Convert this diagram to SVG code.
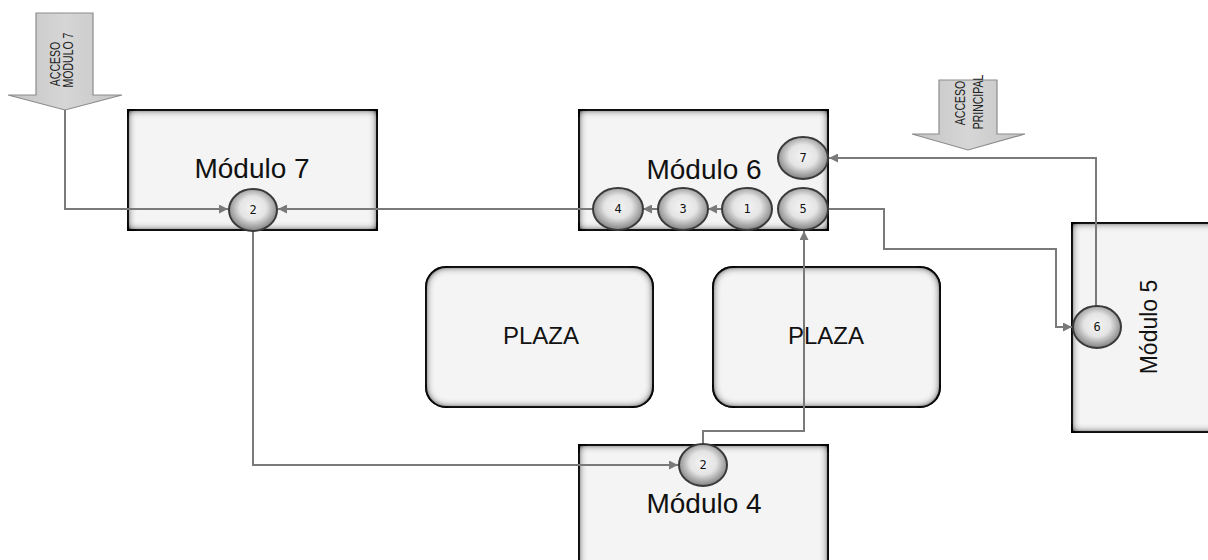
<svg xmlns="http://www.w3.org/2000/svg" width="1208" height="560" viewBox="0 0 1208 560">
<defs>
<filter id="inner" x="-10%" y="-10%" width="120%" height="120%">
<feFlood flood-color="#000" flood-opacity="1" result="f"/>
<feComposite in="f" in2="SourceAlpha" operator="out" result="o"/>
<feGaussianBlur in="o" stdDeviation="4.5" result="b"/>
<feComponentTransfer in="b" result="b2"><feFuncA type="linear" slope="1.8"/></feComponentTransfer>
<feComposite in="b2" in2="SourceAlpha" operator="in" result="s"/>
<feMerge><feMergeNode in="SourceGraphic"/><feMergeNode in="s"/></feMerge>
</filter>
<radialGradient id="cg" cx="50%" cy="45%" r="55%">
<stop offset="0" stop-color="#f4f4f4"/>
<stop offset="0.5" stop-color="#e4e4e4"/>
<stop offset="1" stop-color="#808080"/>
</radialGradient>
<linearGradient id="ag" x1="0" y1="0" x2="1" y2="0">
<stop offset="0" stop-color="#c4c4c4"/>
<stop offset="0.5" stop-color="#d6d6d6"/>
<stop offset="1" stop-color="#c4c4c4"/>
</linearGradient>
<marker id="ah" viewBox="0 0 10 10" refX="10" refY="5" markerWidth="4.5" markerHeight="4.5" orient="auto" markerUnits="strokeWidth">
<path d="M0,0 L10,5 L0,10 z" fill="#7a7a7a"/>
</marker>
<style>
.box{fill:#f4f4f4;stroke:#2a2a2a;stroke-width:2;filter:url(#inner)}
.plaza{fill:#f4f4f4;stroke:#2a2a2a;stroke-width:2;filter:url(#inner)}
.lbl{font-family:"Liberation Sans",Arial,sans-serif;font-size:28px;fill:#111;text-anchor:middle}
.pl{font-family:"Liberation Sans",Arial,sans-serif;font-size:24px;fill:#111;text-anchor:middle}
.c{fill:url(#cg);stroke:#3a3a3a;stroke-width:2}
.n{font-family:"DejaVu Sans Mono",monospace;font-size:12px;fill:#111;text-anchor:middle}
.acc{fill:url(#ag);stroke:#8c8c8c;stroke-width:1.2}
.at{font-family:"Liberation Sans",Arial,sans-serif;font-size:14px;fill:#222;text-anchor:middle}
.con{fill:none;stroke:#7a7a7a;stroke-width:2}
</style>
</defs>
<rect width="1208" height="560" fill="#fff"/>

<g id="acceso-modulo7">
<polygon class="acc" points="36,13 93,13 93,95 122,95 65,110 8,95 36,95"/>
<text class="at" transform="translate(60,64) rotate(-90) scale(0.75,1)">ACCESO</text>
<text class="at" transform="translate(73,60) rotate(-90) scale(0.75,1)">MÓDULO 7</text>
</g>
<g id="acceso-principal">
<polygon class="acc" points="939,80 997,80 997,134 1025,134 968,150 912,134 939,134"/>
<text class="at" transform="translate(965,103) rotate(-90) scale(0.75,1)">ACCESO</text>
<text class="at" transform="translate(983,102) rotate(-90) scale(0.75,1)">PRINCIPAL</text>
</g>

<g id="modulo7">
<rect class="box" x="128" y="110" width="249" height="120"/>
<text class="lbl" x="252" y="178">Módulo 7</text>
</g>
<g id="modulo6">
<rect class="box" x="579" y="110" width="249" height="120"/>
<text class="lbl" x="704" y="179">Módulo 6</text>
</g>
<g id="modulo4">
<rect class="box" x="579" y="445" width="249" height="130"/>
<text class="lbl" x="704" y="513">Módulo 4</text>
</g>
<g id="modulo5">
<rect class="box" x="1072" y="223" width="150" height="209"/>
<text class="lbl" style="font-size:23px" transform="translate(1157,327) rotate(-90)">Módulo 5</text>
</g>
<g id="plaza1">
<rect class="plaza" x="426" y="267" width="227" height="140" rx="20"/>
<text class="pl" x="541" y="344">PLAZA</text>
</g>
<g id="plaza2">
<rect class="plaza" x="713" y="267" width="227" height="140" rx="20"/>
<text class="pl" x="826" y="344">PLAZA</text>
</g>

<g id="connectors">
<polyline class="con" points="65,110 65,209 228,209" marker-end="url(#ah)"/>
<polyline class="con" points="593,209 278,209" marker-end="url(#ah)"/>
<polyline class="con" points="658,209 643,209" marker-end="url(#ah)"/>
<polyline class="con" points="722,209 708,209" marker-end="url(#ah)"/>
<polyline class="con" points="253,231 253,465 678,465" marker-end="url(#ah)"/>
<polyline class="con" points="703,444 703,431 804,431 804,231" marker-end="url(#ah)"/>
<polyline class="con" points="828,209 884,209 884,249 1056,249 1056,327 1072,327" marker-end="url(#ah)"/>
<polyline class="con" points="1096,306 1096,158 829,158" marker-end="url(#ah)"/>
</g>

<g id="c-m7-2"><ellipse class="c" cx="253" cy="210" rx="24" ry="21"/><text class="n" x="253" y="214">2</text></g>
<g id="c-m6-4"><ellipse class="c" cx="618" cy="209" rx="25" ry="21"/><text class="n" x="618" y="213">4</text></g>
<g id="c-m6-3"><ellipse class="c" cx="683" cy="209" rx="25" ry="21"/><text class="n" x="683" y="213">3</text></g>
<g id="c-m6-1"><ellipse class="c" cx="747" cy="209" rx="25" ry="21"/><text class="n" x="747" y="213">1</text></g>
<g id="c-m6-5"><ellipse class="c" cx="803" cy="209" rx="25" ry="21"/><text class="n" x="803" y="213">5</text></g>
<g id="c-m6-7"><ellipse class="c" cx="803" cy="158" rx="25" ry="21"/><text class="n" x="803" y="162">7</text></g>
<g id="c-m4-2"><ellipse class="c" cx="703" cy="465" rx="24" ry="21"/><text class="n" x="703" y="469">2</text></g>
<g id="c-m5-6"><ellipse class="c" cx="1097" cy="327" rx="24" ry="21"/><text class="n" x="1097" y="331">6</text></g>
</svg>
